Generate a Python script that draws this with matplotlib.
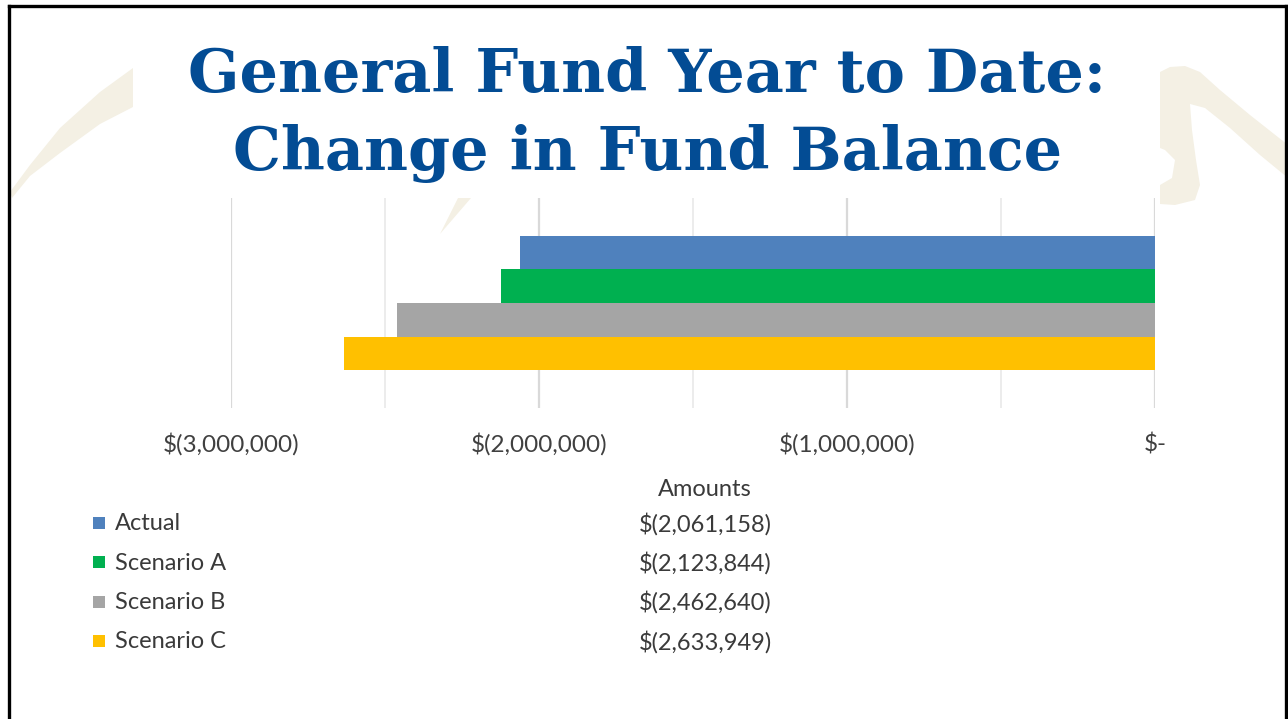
import matplotlib
matplotlib.use("Agg")
import matplotlib.pyplot as plt
from matplotlib.patches import Polygon, Rectangle
from matplotlib.lines import Line2D
from matplotlib.ticker import FuncFormatter, MultipleLocator

# ---- data ----
series = ["Actual", "Scenario A", "Scenario B", "Scenario C"]
values = [-2061158, -2123844, -2462640, -2633949]
colors = ["#4f81bd", "#00b050", "#a5a5a5", "#ffc000"]
title_lines = ["General Fund Year to Date:", "Change in Fund Balance"]
table_header = "Amounts"

W, H = 1288, 719
fig = plt.figure(figsize=(W / 100, H / 100), dpi=100)
fig.patch.set_facecolor("white")

def fx(x):
    return x / W

def fy(y):
    return 1 - y / H

def poly(pts, color, z=0):
    fig.patches.append(Polygon([(fx(a), fy(b)) for a, b in pts], closed=True,
                               transform=fig.transFigure, facecolor=color,
                               edgecolor="none", zorder=z))

beige = "#f4f0e4"
# left swoosh
poly([(10, 192), (30, 165), (60, 128), (100, 92), (133, 68),
      (133, 107), (100, 124), (60, 153), (30, 176), (12, 198)], beige)
# tip below title
poly([(458, 198), (471, 198), (440, 234)], beige)
# right swoosh
poly([(1160, 72), (1170, 67), (1185, 66), (1200, 72), (1220, 90), (1250, 115),
      (1288, 145), (1288, 178), (1260, 155), (1230, 128), (1205, 108), (1190, 104),
      (1192, 130), (1196, 160), (1200, 185), (1195, 200), (1175, 205), (1160, 204),
      (1160, 185), (1172, 178), (1175, 160), (1165, 150), (1160, 148)], beige)

# slide border
for (x0, y0, x1, y1) in [(9, 6, 9, 719), (9, 6, 1286, 6), (1286, 6, 1286, 719)]:
    fig.lines.append(Line2D([fx(x0), fx(x1)], [fy(y0), fy(y1)], transform=fig.transFigure,
                            color="black", lw=2.4, zorder=5))

# title
title_color = "#034c94"
for i, line in enumerate(title_lines):
    fig.text(0.5025, fy(92 + 78 * i), line, ha="center", va="baseline",
             fontsize=43.5, fontweight="bold", family="DejaVu Serif", color=title_color)

# ---- chart ----
ax = fig.add_axes([fx(231), fy(408), fx(1155) - fx(231), (408 - 198) / H])
ax.set_facecolor("none")
bh = 0.1607
for i, (s, v, c) in enumerate(zip(series, values, colors)):
    ax.barh(0.5 + (1.5 - i) * bh, v, height=bh, color=c, zorder=3)

ax.set_xlim(-3000000, 0)
ax.set_ylim(0, 1)
ax.xaxis.set_major_locator(MultipleLocator(1000000))
ax.xaxis.set_minor_locator(MultipleLocator(500000))
ax.grid(axis="x", which="major", color="#d9d9d9", lw=1.6, zorder=0)
ax.grid(axis="x", which="minor", color="#ececec", lw=1.4, zorder=0)
for sp in ax.spines.values():
    sp.set_visible(False)
ax.set_yticks([])

def money(v, pos=None):
    if v == 0:
        return "$-"
    if v < 0:
        return f"$({abs(v):,.0f})"
    return f"${v:,.0f}"

ax.xaxis.set_major_formatter(FuncFormatter(money))
ax.tick_params(axis="x", which="both", length=0, pad=18, labelsize=17.5,
               labelcolor="#404040")
for lab in ax.get_xticklabels():
    lab.set_family("Lato")

# ---- data table / legend ----
txt_color = "#3a3a3a"
fs = 17
fig.text(fx(705), fy(489), table_header, ha="center", va="center", fontsize=fs,
         family="Lato", color=txt_color)
for i, (s, v, c) in enumerate(zip(series, values, colors)):
    y = 524 + 39.3 * i
    fig.patches.append(Rectangle((fx(93), fy(y + 5)), fx(12), 12 / H,
                                 transform=fig.transFigure, facecolor=c, edgecolor="none"))
    fig.text(fx(115), fy(y), s, ha="left", va="center", fontsize=fs, family="Lato",
             color=txt_color)
    fig.text(fx(772), fy(y), money(v), ha="right", va="center", fontsize=fs,
             family="Lato", color=txt_color)

fig.savefig("out.png", dpi=100, facecolor="white")
